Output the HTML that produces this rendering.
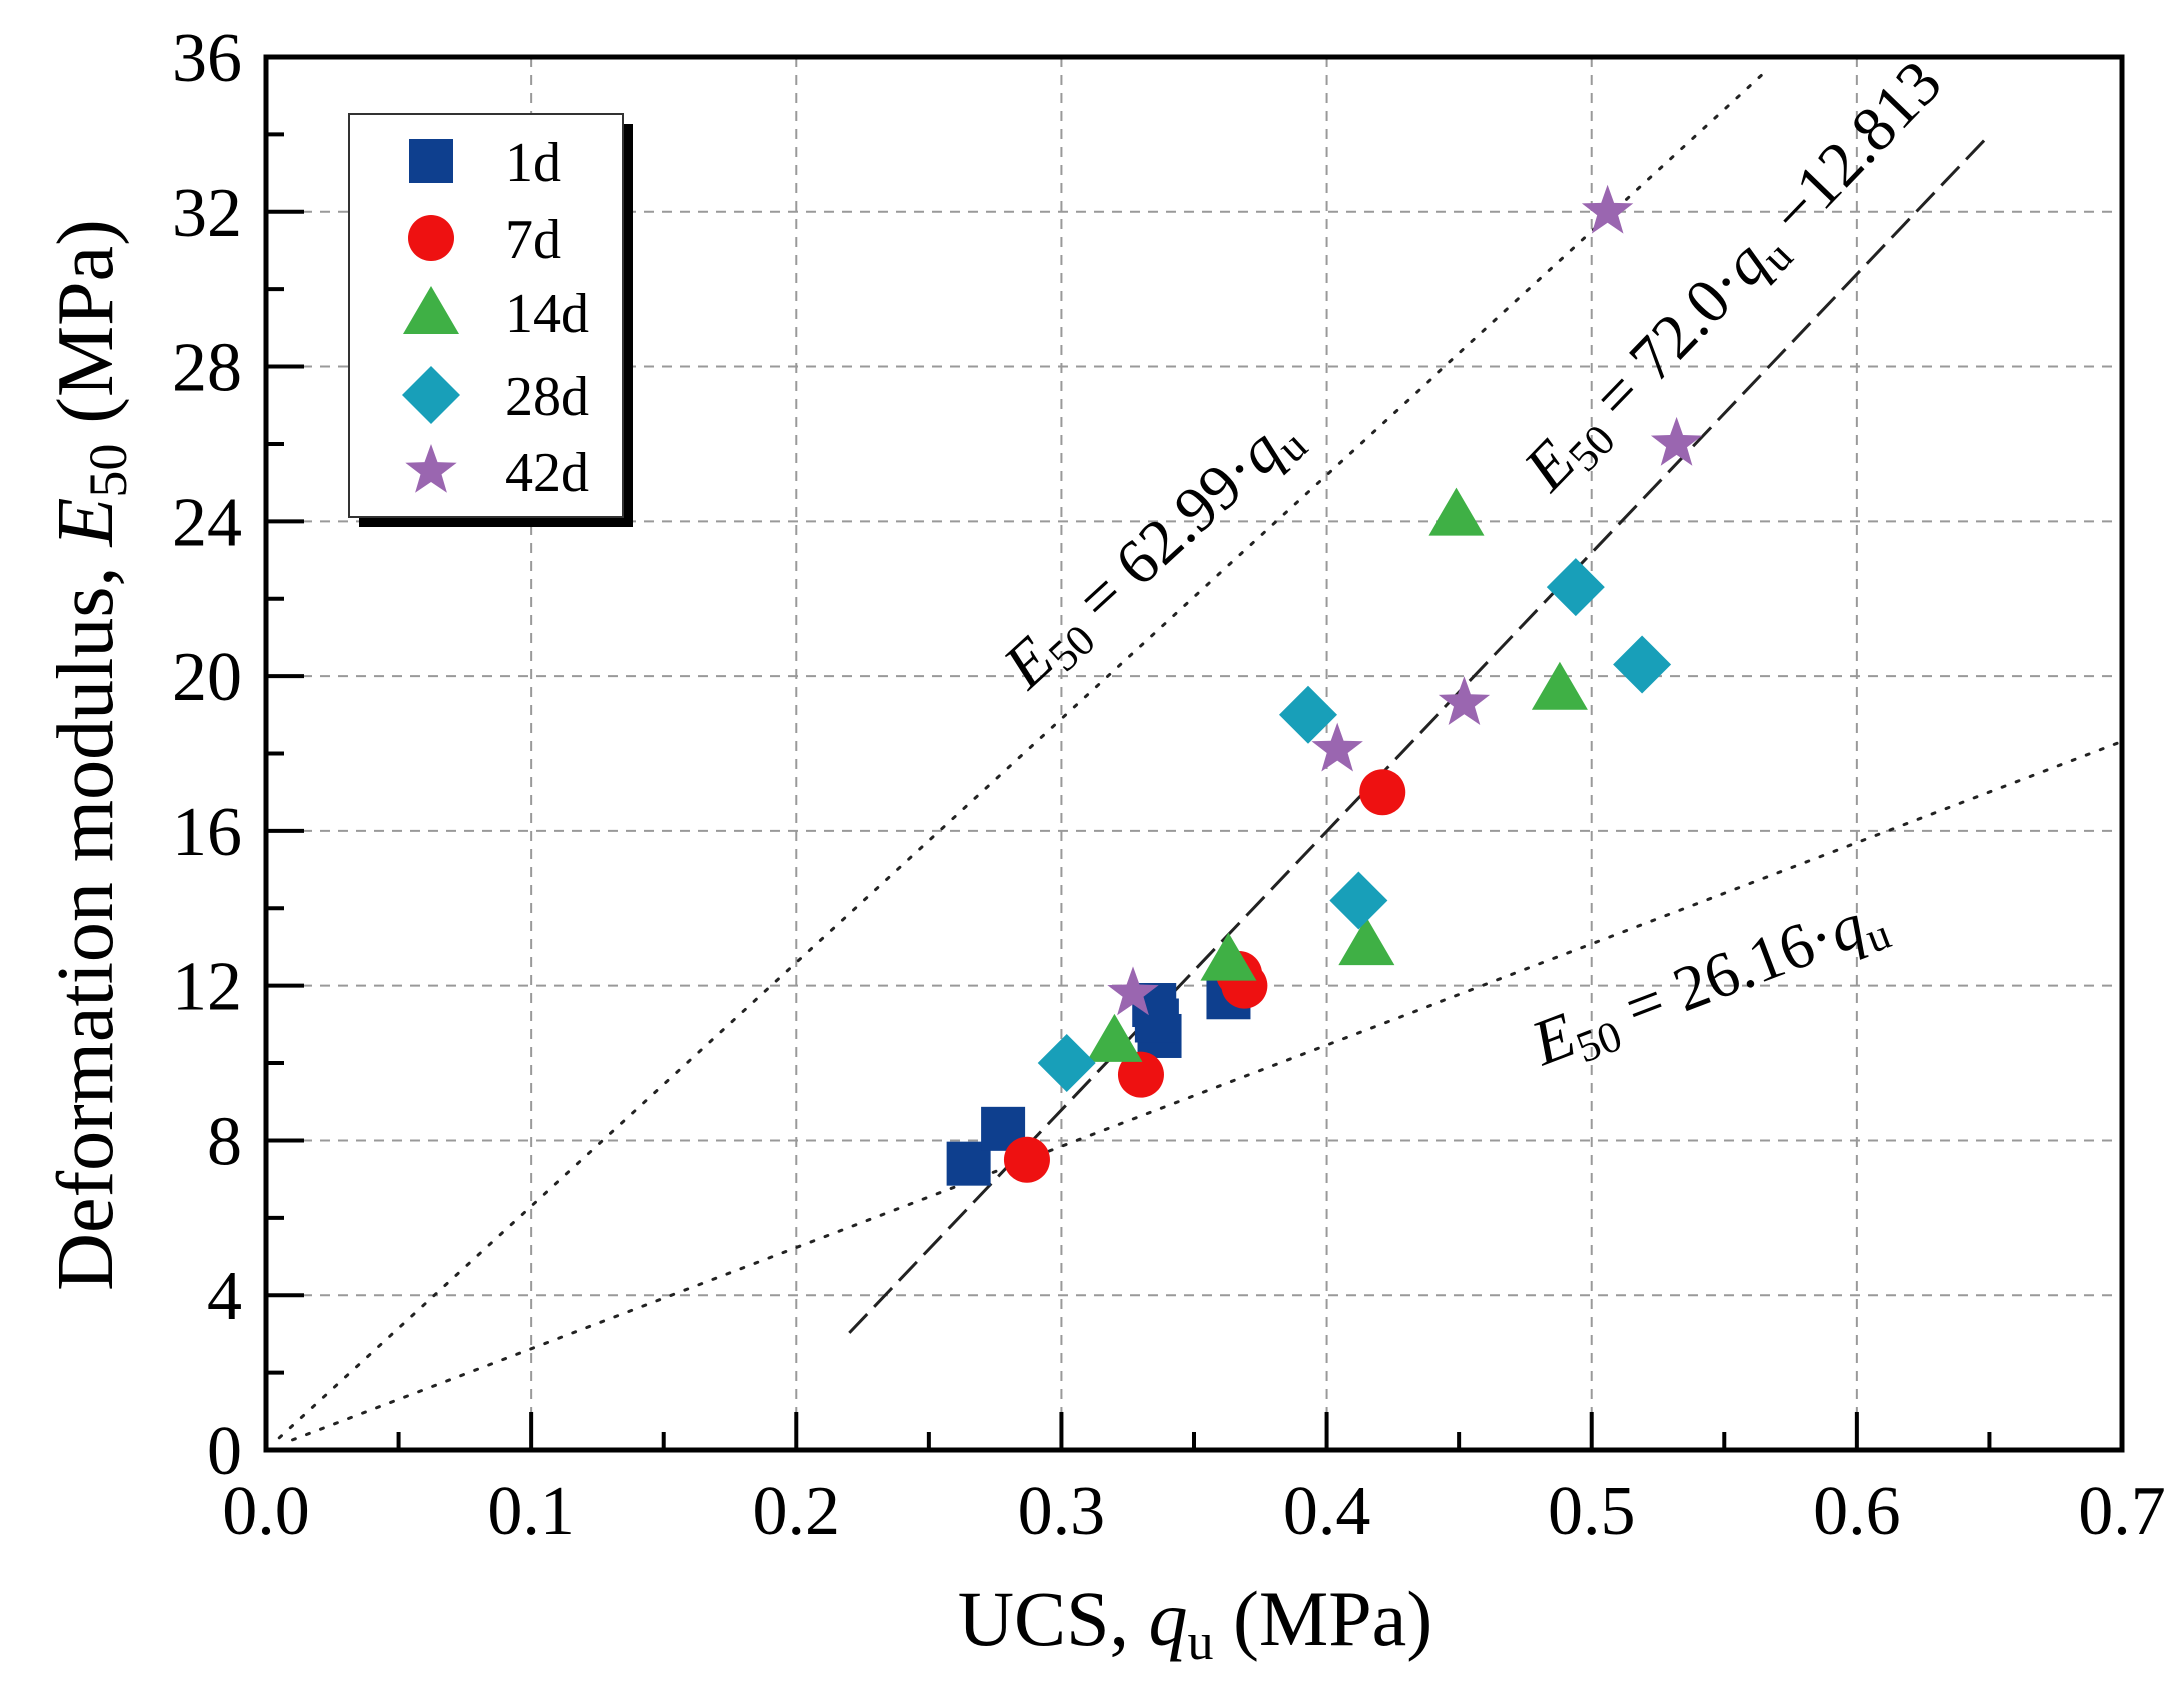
<!DOCTYPE html>
<html><head><meta charset="utf-8"><style>
html,body{margin:0;padding:0;background:#fff;}
svg{display:block;font-family:"Liberation Serif",serif;}
</style></head><body>
<svg id="chart" width="2179" height="1699" viewBox="0 0 2179 1699">
<g id="grid"></g>
<g id="lines"></g>
<g id="marks"></g>
<g id="axes"></g>
<g font-size="64">
<text transform="translate(1165,566) rotate(-42.5)" text-anchor="middle"><tspan font-style="italic">E</tspan><tspan font-size="44" dy="12">50</tspan><tspan dy="-12"> = 62.99·</tspan><tspan font-style="italic">q</tspan><tspan font-size="44" dy="12">u</tspan></text>
<text transform="translate(1748,290) rotate(-46)" text-anchor="middle"><tspan font-style="italic">E</tspan><tspan font-size="44" dy="12">50</tspan><tspan dy="-12"> = 72.0·</tspan><tspan font-style="italic">q</tspan><tspan font-size="44" dy="12">u</tspan><tspan dy="-12"> −12.813</tspan></text>
<text transform="translate(1716,1000) rotate(-20.8)" text-anchor="middle"><tspan font-style="italic">E</tspan><tspan font-size="44" dy="12">50</tspan><tspan dy="-12"> = 26.16·</tspan><tspan font-style="italic">q</tspan><tspan font-size="44" dy="12">u</tspan></text>
</g>
<text x="1195" y="1645" font-size="78" text-anchor="middle">UCS, <tspan font-style="italic">q</tspan><tspan font-size="52" dy="14">u</tspan><tspan dy="-14"> (MPa)</tspan></text>
<text transform="translate(112,755) rotate(-90)" font-size="80" text-anchor="middle">Deformation modulus, <tspan font-style="italic">E</tspan><tspan font-size="54" dy="14">50</tspan><tspan dy="-14"> (MPa)</tspan></text>
<g id="legend">
<rect x="359" y="124" width="274" height="403" fill="#000"/>
<rect x="349" y="114" width="274" height="403" fill="#fff" stroke="#333" stroke-width="2"/>
</g>
</svg>
<script>
const xTicks=["0.0","0.1","0.2","0.3","0.4","0.5","0.6","0.7"];
const yTicks=["0","4","8","12","16","20","24","28","32","36"];
const seriesNames=["1d","7d","14d","28d","42d"];
const q1d=[0.265,0.278,0.335,0.337,0.336,0.363];
const e1d=[7.4,8.3,11.5,10.7,11.1,11.7];
const q7d=[0.287,0.330,0.367,0.369,0.421];
const e7d=[7.5,9.7,12.3,12.0,17.0];
const q14d=[0.320,0.363,0.415,0.449,0.488];
const e14d=[10.6,12.7,13.1,24.2,19.7];
const q28d=[0.302,0.393,0.412,0.494,0.519];
const e28d=[10.0,19.0,14.2,22.3,20.3];
const q42d=[0.327,0.404,0.452,0.506,0.532];
const e42d=[11.8,18.1,19.3,32.0,26.0];
const slopeUpper=62.99, slopeLower=26.16, fitSlope=72.0, fitIntercept=-12.813;

const L=266,R=2122,T=57,B=1450;
const X=v=>L+(v/0.7)*(R-L);
const Y=v=>B-(v/36)*(B-T);
const NS="http://www.w3.org/2000/svg";
function mk(tag,parent,attrs){const e=document.createElementNS(NS,tag);for(const k in attrs)e.setAttribute(k,attrs[k]);parent.appendChild(e);return e;}
const grid=document.getElementById('grid'),axes=document.getElementById('axes'),lines=document.getElementById('lines'),marks=document.getElementById('marks'),legend=document.getElementById('legend');

xTicks.forEach((t,i)=>{const v=parseFloat(t);const x=X(v);
 if(i>0&&i<xTicks.length-1){const g=mk('line',grid,{x1:x,x2:x,y1:T,y2:B,stroke:'#999','stroke-width':2,'stroke-dasharray':'10 8'});}
 const tk=mk('line',axes,{x1:x,x2:x,y1:B,y2:B-38,stroke:'#000','stroke-width':4});
 if(i<xTicks.length-1){const m=mk('line',axes,{x1:X(v+0.05),x2:X(v+0.05),y1:B,y2:B-18,stroke:'#000','stroke-width':4});}
 const lb=mk('text',axes,{x:x,y:B+84,'font-size':70,'text-anchor':'middle'});lb.textContent=t;
});
yTicks.forEach((t,i)=>{const v=parseFloat(t);const y=Y(v);
 if(i>0&&i<yTicks.length-1){const g=mk('line',grid,{x1:L,x2:R,y1:y,y2:y,stroke:'#999','stroke-width':2,'stroke-dasharray':'10 8'});}
 const tk=mk('line',axes,{x1:L,x2:L+38,y1:y,y2:y,stroke:'#000','stroke-width':4});
 if(i<yTicks.length-1){const m=mk('line',axes,{x1:L,x2:L+18,y1:Y(v+2),y2:Y(v+2),stroke:'#000','stroke-width':4});}
 const lb=mk('text',axes,{x:L-24,y:y+24,'font-size':70,'text-anchor':'end'});lb.textContent=t;
});
const fr=mk('rect',axes,{x:L,y:T,width:R-L,height:B-T,fill:'none',stroke:'#000','stroke-width':5});


const lu=mk('line',lines,{x1:X(0.005),y1:Y(slopeUpper*0.005),x2:X(0.565),y2:Y(slopeUpper*0.565),stroke:'#222','stroke-width':3,'stroke-dasharray':'3 12','stroke-linecap':'round'});

const ll=mk('line',lines,{x1:X(0.01),y1:Y(slopeLower*0.01),x2:X(0.7),y2:Y(slopeLower*0.7),stroke:'#222','stroke-width':3,'stroke-dasharray':'3 12','stroke-linecap':'round'});

const lf=mk('line',lines,{x1:X(0.22),y1:Y(fitSlope*0.22+fitIntercept),x2:X(0.65),y2:Y(fitSlope*0.65+fitIntercept),stroke:'#222','stroke-width':3,'stroke-dasharray':'26 10'});


const colors=["#0e3f8e","#ee1111","#3fb045","#189fb9","#9a66b0"];
function marker(p,k,x,y){let e;const s=22;
 if(k===0)e=mk('rect',p,{x:x-s,y:y-s,width:2*s,height:2*s,fill:colors[0]});
 else if(k===1)e=mk('circle',p,{cx:x,cy:y,r:23,fill:colors[1]});
 else if(k===2)e=mk('polygon',p,{points:`${x},${y-26} ${x+28},${y+22} ${x-28},${y+22}`,fill:colors[2]});
 else if(k===3)e=mk('polygon',p,{points:`${x},${y-29} ${x+29},${y} ${x},${y+29} ${x-29},${y}`,fill:colors[3]});
 else{let pts=[];for(let j=0;j<10;j++){const r=j%2?11:27,a=-Math.PI/2+j*Math.PI/5;pts.push((x+r*Math.cos(a)).toFixed(1)+','+(y+r*Math.sin(a)).toFixed(1));}e=mk('polygon',p,{points:pts.join(' '),fill:colors[4]});}
 return e;}
const Q=[q1d,q7d,q14d,q28d,q42d],E=[e1d,e7d,e14d,e28d,e42d];
Q.forEach((qs,k)=>{qs.forEach((q,i)=>{const m=marker(marks,k,X(q),Y(E[k][i]));
 
 });});
const rowsY=[161,238,312,395,471];
seriesNames.forEach((n,k)=>{const m=marker(legend,k,431,rowsY[k]);
 
 
 const t=mk('text',legend,{x:505,y:rowsY[k]+20,'font-size':56});t.textContent=n;
 
 });
</script>
</body></html>
